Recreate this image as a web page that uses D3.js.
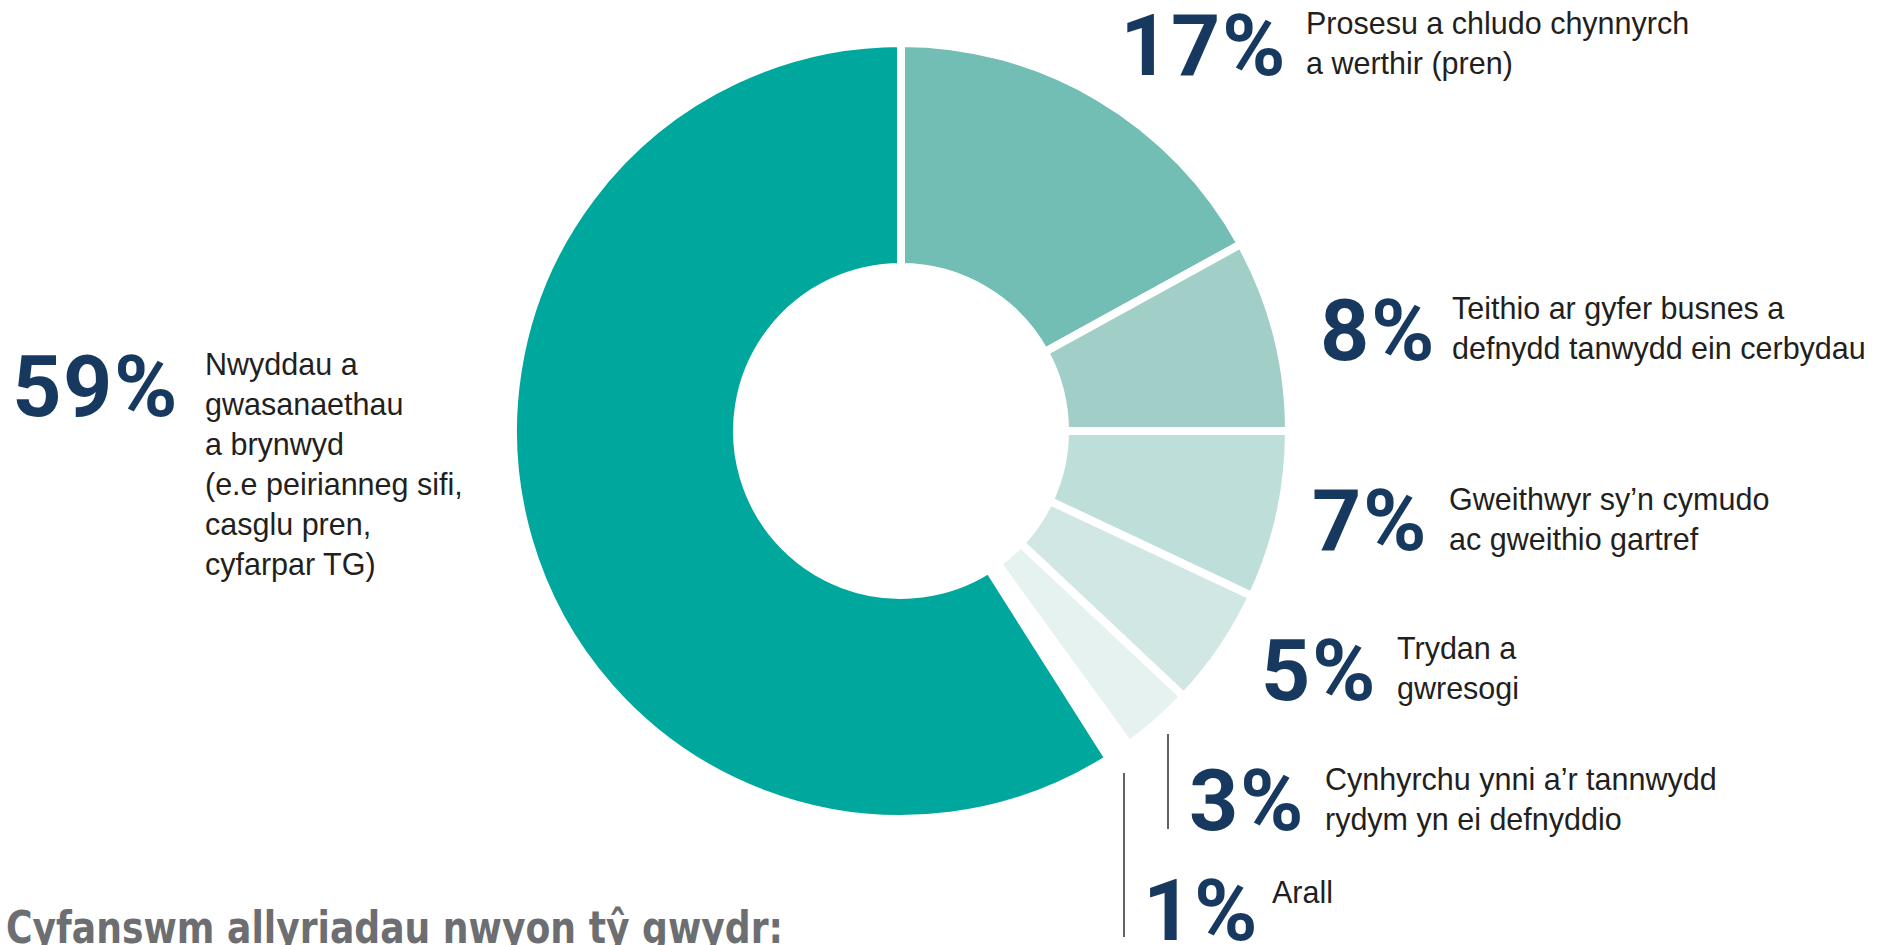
<!DOCTYPE html>
<html>
<head>
<meta charset="utf-8">
<script src="https://cdn.jsdelivr.net/npm/d3@7"></script>
<style>
  html, body { margin: 0; padding: 0; background: #fff; overflow: hidden; }
  svg { display: block; }
</style>
</head>
<body>
<svg id="chart" width="1888" height="945"></svg>
<script>
// ---- data ----
const categories = [
  "Prosesu a chludo chynnyrch a werthir (pren)",
  "Teithio ar gyfer busnes a defnydd tanwydd ein cerbydau",
  "Gweithwyr sy’n cymudo ac gweithio gartref",
  "Trydan a gwresogi",
  "Cynhyrchu ynni a’r tannwydd rydym yn ei defnyddio",
  "Arall",
  "Nwyddau a gwasanaethau a brynwyd (e.e peirianneg sifi, casglu pren, cyfarpar TG)"
];
const values = [17, 8, 7, 5, 3, 1, 59];
const labelLines = [
  ["Prosesu a chludo chynnyrch", "a werthir (pren)"],
  ["Teithio ar gyfer busnes a", "defnydd tanwydd ein cerbydau"],
  ["Gweithwyr sy’n cymudo", "ac gweithio gartref"],
  ["Trydan a", "gwresogi"],
  ["Cynhyrchu ynni a’r tannwydd", "rydym yn ei defnyddio"],
  ["Arall"],
  ["Nwyddau a", "gwasanaethau", "a brynwyd", "(e.e peirianneg sifi,", "casglu pren,", "cyfarpar TG)"]
];
const titleText = "Cyfanswm allyriadau nwyon tŷ gwydr:";

// ---- styles / layout (not data) ----
const colors = ["#72bdb4", "#a2cec8", "#bedfd9", "#d1e7e3", "#e6f2f0", "#ffffff", "#00a79d"];
// percent right edge x, percent baseline y, text x, first text baseline y
const labelPos = [
  {px: 1287, py: 75,  tx: 1306, ty: 34},
  {px: 1436, py: 360, tx: 1452, ty: 319},
  {px: 1428, py: 550, tx: 1449, ty: 510},
  {px: 1377, py: 700, tx: 1397, ty: 659},
  {px: 1305, py: 830, tx: 1325, ty: 790},
  {px: 1259, py: 940, tx: 1272, ty: 903},
  {px: 179,  py: 416, tx: 205,  ty: 375}
];
const leaders = [
  {x: 1168, y1: 734, y2: 829},
  {x: 1124, y1: 773, y2: 937}
];

const svg = d3.select("#chart");
const cx = 901, cy = 431;

const pie = d3.pie().sort(null).value(d => d);
const arc = d3.arc().innerRadius(164).outerRadius(388);

const g = svg.append("g").attr("transform", `translate(${cx},${cy})`);
g.selectAll("path")
  .data(pie(values))
  .join("path")
  .attr("d", arc)
  .attr("fill", (d, i) => colors[i])
  .attr("stroke", "#ffffff")
  .attr("stroke-width", 8)
  .attr("stroke-linejoin", "miter");

// leader lines
svg.selectAll("line.leader")
  .data(leaders)
  .join("line")
  .attr("class", "leader")
  .attr("x1", d => d.x).attr("x2", d => d.x)
  .attr("y1", d => d.y1).attr("y2", d => d.y2)
  .attr("stroke", "#3a3a3a")
  .attr("stroke-width", 1.6);

// labels
const lab = svg.selectAll("g.lab")
  .data(values.map((v, i) => ({v, i})))
  .join("g").attr("class", "lab");

lab.append("text")
  .attr("x", d => labelPos[d.i].px)
  .attr("y", d => labelPos[d.i].py)
  .attr("text-anchor", "end")
  .attr("font-family", "Roboto, 'DejaVu Sans', sans-serif")
  .attr("font-weight", 700)
  .attr("font-size", 86)
  .attr("letter-spacing", 1.5)
  .attr("fill", "#17395f")
  .text(d => d.v + "%");

lab.append("text")
  .attr("font-family", "'Liberation Sans', Arial, sans-serif")
  .attr("font-size", 30.5)
  .attr("fill", "#231f20")
  .each(function(d) {
    const t = d3.select(this);
    labelLines[d.i].forEach((line, k) => {
      t.append("tspan")
        .attr("x", labelPos[d.i].tx)
        .attr("y", labelPos[d.i].ty + k * 40)
        .text(line);
    });
  });

// title (cut off at bottom as in reference)
svg.append("text")
  .attr("x", 6)
  .attr("y", 943)
  .attr("font-family", "'Liberation Sans Narrow', 'DejaVu Sans Condensed', 'Liberation Sans', sans-serif")
  .attr("font-weight", 700)
  .attr("font-size", 45)
  .attr("fill", "#6d6e71")
  .attr("textLength", 777)
  .attr("lengthAdjust", "spacingAndGlyphs")
  .text(titleText);
</script>
</body>
</html>
